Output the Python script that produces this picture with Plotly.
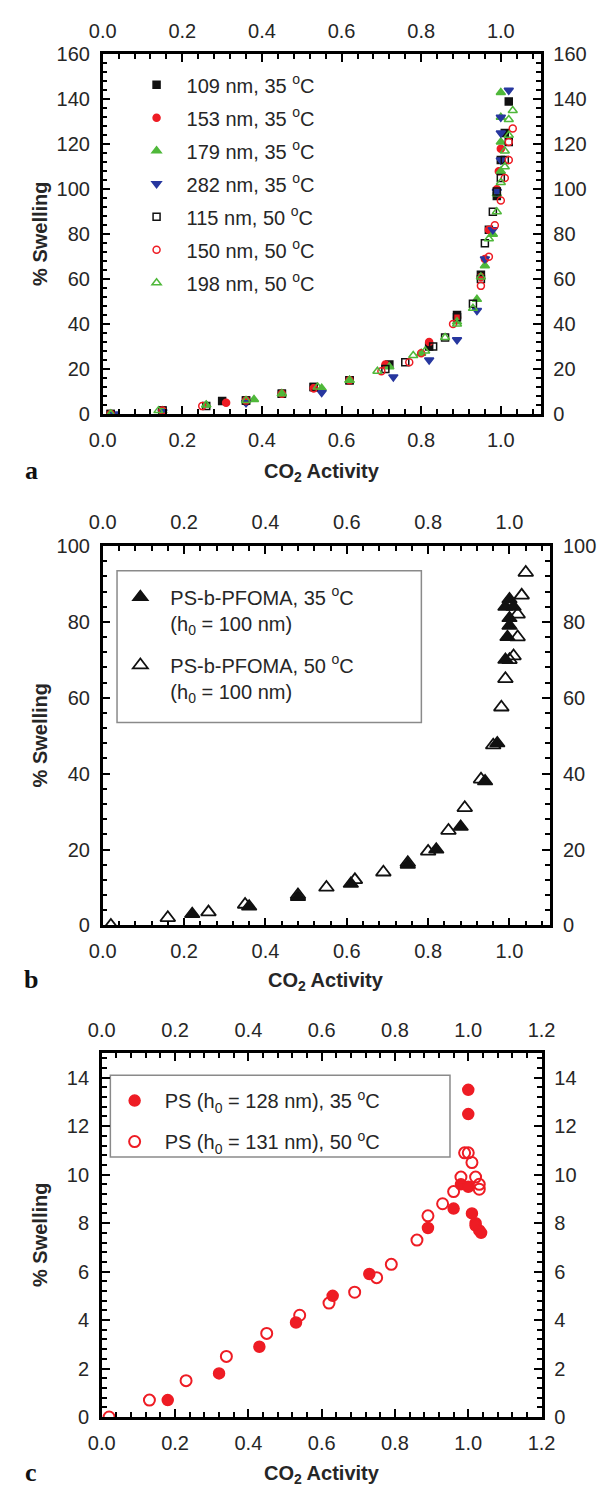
import plotly.graph_objects as go

W, H = 609, 1498

# ---------------- panel a: PFOMA films of several thicknesses ----------------
a_labels = ["109 nm, 35 <sup>o</sup>C", "153 nm, 35 <sup>o</sup>C", "179 nm, 35 <sup>o</sup>C",
            "282 nm, 35 <sup>o</sup>C", "115 nm, 50 <sup>o</sup>C", "150 nm, 50 <sup>o</sup>C",
            "198 nm, 50 <sup>o</sup>C"]

a109_x = [0.02, 0.15, 0.30, 0.36, 0.45, 0.53, 0.62, 0.72, 0.82, 0.89, 0.95, 0.97, 0.99, 1.00, 1.01, 1.02]
a109_y = [0, 1.5, 5.8, 6, 9, 12, 15, 22, 30, 44, 62, 82, 97, 113, 125, 139]

a153_x = [0.02, 0.15, 0.31, 0.36, 0.45, 0.53, 0.62, 0.71, 0.82, 0.89, 0.95, 0.96, 0.97, 0.99, 0.995, 1.00]
a153_y = [0, 1.5, 5, 5.5, 9, 11.5, 15, 22, 32, 43, 61, 69, 82, 100, 108, 118]

a179_x = [0.02, 0.15, 0.26, 0.38, 0.45, 0.55, 0.62, 0.72, 0.80, 0.89, 0.94, 0.96, 0.98, 0.99, 1.00, 1.00, 1.00, 1.00]
a179_y = [0, 1.5, 4, 6.5, 9, 11.5, 15, 21, 27, 41, 51, 66, 80, 98, 108, 121, 132, 143]

a282_x = [0.03, 0.15, 0.36, 0.55, 0.73, 0.82, 0.89, 0.94, 0.96, 0.98, 0.99, 1.00, 1.00, 1.00, 1.02]
a282_y = [0, 1, 5, 9.5, 16.5, 24, 33, 46, 69, 82, 99, 113, 125, 132, 144]

a115_x = [0.02, 0.15, 0.26, 0.36, 0.45, 0.53, 0.62, 0.71, 0.76, 0.83, 0.86, 0.89, 0.93, 0.95, 0.96, 0.98, 0.99, 1.00, 1.01, 1.02]
a115_y = [0, 1.5, 3.5, 6, 9, 12, 15, 20, 23, 30, 34, 43, 49, 60, 76, 90, 99, 105, 113, 121]

a150_x = [0.02, 0.15, 0.25, 0.36, 0.45, 0.53, 0.62, 0.70, 0.77, 0.80, 0.88, 0.95, 0.97, 0.985, 1.00, 1.01, 1.02, 1.02, 1.03]
a150_y = [0, 1.5, 3.5, 6, 9, 11.5, 15, 19, 23, 27, 40, 57, 70, 84, 95, 105, 113, 121, 127]

a198_x = [0.02, 0.14, 0.26, 0.36, 0.45, 0.54, 0.62, 0.69, 0.78, 0.81, 0.86, 0.89, 0.93, 0.95, 0.97, 0.99, 1.00, 1.01, 1.01, 1.02, 1.02, 1.03]
a198_y = [0, 1.5, 4, 6, 9, 12, 15, 19, 26, 28, 34, 40, 47, 61, 78, 90, 103, 110, 117, 124, 131, 135]

# ---------------- panel b: PS-b-PFOMA ----------------
b_labels = ["PS-b-PFOMA, 35 <sup>o</sup>C<br>(h<sub>0</sub> = 100 nm)",
            "PS-b-PFOMA, 50 <sup>o</sup>C<br>(h<sub>0</sub> = 100 nm)"]
b35_x = [0.22, 0.36, 0.48, 0.61, 0.75, 0.82, 0.88, 0.94, 0.97, 0.99, 0.995, 1.00, 1.00, 0.99, 1.00, 1.01]
b35_y = [3, 5, 7.5, 11, 16, 20, 26, 38, 48, 70, 76, 79, 81, 84, 86, 84]
b50_x = [0.02, 0.16, 0.26, 0.35, 0.48, 0.55, 0.62, 0.69, 0.75, 0.80, 0.85, 0.89, 0.93, 0.96, 0.98, 0.99, 1.00, 1.01, 1.02, 1.02, 1.03, 1.04]
b50_y = [0, 2, 3.5, 5.5, 8, 10, 12, 14, 16.5, 19.5, 25, 31, 38.5, 47.5, 57.5, 65, 70, 71, 76, 82, 87, 93]

# ---------------- panel c: PS homopolymer ----------------
c_labels = ["PS (h<sub>0</sub> = 128 nm), 35 <sup>o</sup>C",
            "PS (h<sub>0</sub> = 131 nm), 50 <sup>o</sup>C"]
c35_x = [0.18, 0.32, 0.43, 0.53, 0.63, 0.73, 0.89, 0.96, 0.98, 1.00, 1.00, 1.00, 1.01, 1.02, 1.02, 1.03, 1.035]
c35_y = [0.7, 1.8, 2.9, 3.9, 5.0, 5.9, 7.8, 8.6, 9.6, 9.5, 12.5, 13.5, 8.4, 8.0, 7.9, 7.7, 7.6]
c50_x = [0.02, 0.13, 0.23, 0.34, 0.45, 0.54, 0.62, 0.69, 0.75, 0.79, 0.86, 0.89, 0.93, 0.96, 0.98, 0.99, 1.00, 1.01, 1.02, 1.03, 1.03]
c50_y = [0, 0.7, 1.5, 2.5, 3.45, 4.2, 4.7, 5.15, 5.75, 6.3, 7.3, 8.3, 8.8, 9.3, 9.9, 10.9, 10.9, 10.5, 9.9, 9.6, 9.4]

BLACK, RED, GREEN, BLUE = "#111111", "#ee1c24", "#4fb83a", "#27379f"
FONT = "Liberation Sans"
TEXT = "#262626"

# pixel boxes of the three plot areas: (left, right, top, bottom)
PANELS = [(93, 552, 44, 409), (93, 562, 543, 928), (92, 553, 1058, 1427)]
XRANGES = [[0, 1.1], [0, 1.1], [0, 1.2]]
YRANGES = [[0, 160], [0, 100], [0, 15]]
YDTICK = [20, 20, 2]
YMINOR = [4, 4, 0.4]
XTITLE_Y = [468, 985, 1485]


def px_x(v):
    return v / W


def px_y(v):
    return 1 - v / H


fig = go.Figure()


def add(x, y, name, sym, color, size, panel, legend, lw=1.5):
    xa = "x" if panel == 0 else f"x{panel + 1}"
    ya = "y" if panel == 0 else f"y{panel + 1}"
    fig.add_trace(go.Scatter(
        x=x, y=y, name=name, mode="markers", xaxis=xa, yaxis=ya,
        legend=legend, legendgroup=name,
        marker=dict(symbol=sym, color=color, size=size,
                    line=dict(color=color, width=lw)),
    ))


la = "legend"
add(a109_x, a109_y, a_labels[0], "square", BLACK, 7, 0, la)
add(a153_x, a153_y, a_labels[1], "circle", RED, 7, 0, la)
add(a179_x, a179_y, a_labels[2], "triangle-up", GREEN, 8, 0, la)
add(a282_x, a282_y, a_labels[3], "triangle-down", BLUE, 8, 0, la)
add(a115_x, a115_y, a_labels[4], "square-open", BLACK, 7, 0, la)
add(a150_x, a150_y, a_labels[5], "circle-open", RED, 7, 0, la)
add(a198_x, a198_y, a_labels[6], "triangle-up-open", GREEN, 8, 0, la)

add(b35_x, b35_y, b_labels[0], "triangle-up", BLACK, 13, 1, "legend2")
add(b50_x, b50_y, b_labels[1], "triangle-up-open", BLACK, 13, 1, "legend2", lw=1.8)

add(c35_x, c35_y, c_labels[0], "circle", RED, 11, 2, "legend3")
add(c50_x, c50_y, c_labels[1], "circle-open", RED, 11, 2, "legend3", lw=2)

# invisible traces so the mirrored label axes (top / right) are drawn
for i in range(3):
    fig.add_trace(go.Scatter(x=[XRANGES[i][0]], y=[YRANGES[i][0]], mode="markers",
                             xaxis=f"x{i + 4}", yaxis=f"y{i + 4}",
                             marker=dict(opacity=0), showlegend=False, hoverinfo="skip"))

tickfont = dict(family=FONT, size=20, color=TEXT)


def axis_style(dtick, minor, rng, standoff):
    return dict(range=rng, dtick=dtick, tick0=0, showline=True, linecolor="black", linewidth=2.5,
                ticks="inside", ticklen=8, tickwidth=2, tickcolor="black",
                showgrid=False, zeroline=False, tickfont=tickfont, ticklabelstandoff=standoff,
                minor=dict(ticks="inside", ticklen=5, tickwidth=1.5, tickcolor="black",
                           dtick=minor, tick0=0, showgrid=False))


layout = dict(width=W, height=H, margin=dict(l=0, r=0, t=0, b=0),
              paper_bgcolor="white", plot_bgcolor="white", showlegend=True)

for i, (l, r, top, bot) in enumerate(PANELS):
    sfx = "" if i == 0 else str(i + 1)
    xd = [px_x(l), px_x(r)]
    yd = [px_y(bot), px_y(top)]
    layout[f"xaxis{sfx}"] = dict(**axis_style(0.2, 0.04, XRANGES[i], 6), domain=xd,
                                 anchor=f"y{sfx}", tickformat=".1f")
    layout[f"yaxis{sfx}"] = dict(**axis_style(YDTICK[i], YMINOR[i], YRANGES[i], 6), domain=yd,
                                 anchor=f"x{sfx}")
    layout[f"xaxis{i + 4}"] = dict(**axis_style(0.2, 0.04, XRANGES[i], 6), domain=xd,
                                   anchor=f"y{i + 4}", overlaying=f"x{sfx}", side="top",
                                   tickformat=".1f")
    layout[f"yaxis{i + 4}"] = dict(**axis_style(YDTICK[i], YMINOR[i], YRANGES[i], 6), domain=yd,
                                   anchor=f"x{i + 4}", overlaying=f"y{sfx}", side="right")

legfont = dict(family=FONT, size=20, color=TEXT)
common_leg = dict(xanchor="left", yanchor="top", bgcolor="rgba(0,0,0,0)", borderwidth=0,
                  font=legfont, itemwidth=50, valign="top")
layout["legend"] = dict(**common_leg, x=px_x(118), y=px_y(55), tracegroupgap=4)
layout["legend2"] = dict(**common_leg, x=px_x(101), y=px_y(575), tracegroupgap=13)
layout["legend3"] = dict(**common_leg, x=px_x(95), y=px_y(1086), tracegroupgap=12)

# frames around the legends of panels b and c
layout["shapes"] = [
    dict(type="rect", xref="paper", yref="paper", x0=px_x(108), x1=px_x(427),
         y0=px_y(722), y1=px_y(568), line=dict(color="#8a8a8a", width=1.5), layer="below"),
    dict(type="rect", xref="paper", yref="paper", x0=px_x(101), x1=px_x(457),
         y0=px_y(1163), y1=px_y(1080), line=dict(color="#8a8a8a", width=1.5), layer="below"),
]

ann = []
title_font = dict(family=FONT, size=20, color=TEXT, weight="bold")
letter_font = dict(family="Liberation Serif", size=26, color="#111111", weight="bold")
for i, (l, r, top, bot) in enumerate(PANELS):
    ann.append(dict(text="CO<sub>2</sub> Activity", x=px_x((l + r) / 2), y=px_y(XTITLE_Y[i]),
                    xref="paper", yref="paper", showarrow=False, font=title_font,
                    xanchor="center", yanchor="middle"))
    ann.append(dict(text="% Swelling", x=px_x(27), y=px_y((top + bot) / 2), textangle=-90,
                    xref="paper", yref="paper", showarrow=False, font=title_font,
                    xanchor="center", yanchor="middle"))
    ann.append(dict(text="abc"[i], x=px_x(18), y=px_y(XTITLE_Y[i] - 2),
                    xref="paper", yref="paper", showarrow=False, font=letter_font,
                    xanchor="center", yanchor="middle"))
layout["annotations"] = ann

fig.update_layout(**layout)
fig.write_html("out.html")
